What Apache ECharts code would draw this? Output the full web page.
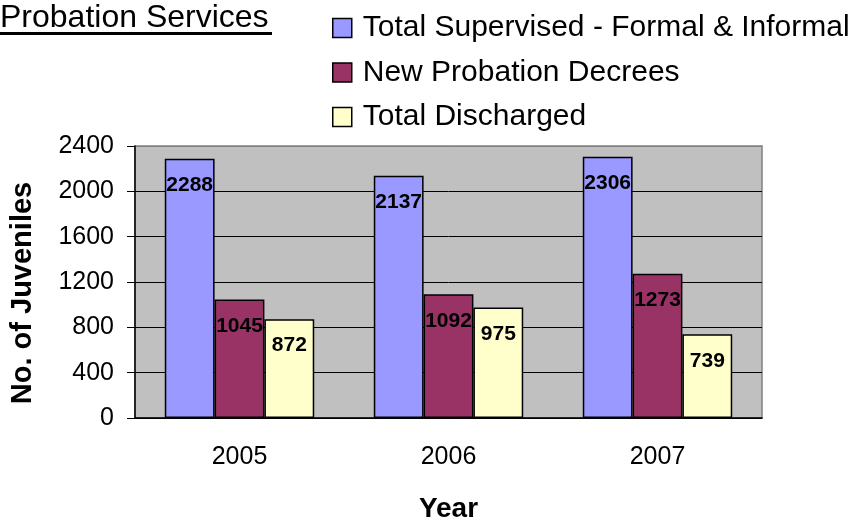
<!DOCTYPE html>
<html>
<head>
<meta charset="utf-8">
<script src="https://cdn.jsdelivr.net/npm/echarts@6/dist/echarts.min.js"></script>
<style>html,body{margin:0;padding:0;background:#fff;}#c{width:862px;height:528px;}</style>
</head>
<body>
<div id="c"></div>
<script>
var years = ['2005', '2006', '2007'];
var totalSupervised = [2288, 2137, 2306];
var newDecrees = [1045, 1092, 1273];
var totalDischarged = [872, 975, 739];
var seriesNames = ['Total Supervised - Formal & Informal', 'New Probation Decrees', 'Total Discharged'];
var yTicks = [0, 400, 800, 1200, 1600, 2000, 2400];

var FONT = "'Liberation Sans', Arial, sans-serif";
var chart = echarts.init(document.getElementById('c'));
var labelCfg = {
  show: true, position: 'insideTop', distance: 16,
  color: '#000', fontFamily: FONT, fontWeight: 'bold', fontSize: 21
};
function mk(name, data, color) {
  return {
    name: name, type: 'bar', data: data, barGap: '0%', barCategoryGap: '28.5%',
    itemStyle: { color: color, borderColor: '#000', borderWidth: 1.5 },
    label: labelCfg
  };
}
chart.setOption({
  animation: false,
  backgroundColor: '#fff',
  grid: { left: 133, right: 100, top: 146, bottom: 102, show: true,
          backgroundColor: '#C0C0C0', borderColor: '#808080', borderWidth: 1.5 },
  graphic: [
    { type: 'text', left: 0, top: 2, style: { text: 'Probation Services', font: '32px ' + FONT, fill: '#000' } },
    { type: 'rect', shape: { x: 0, y: 32, width: 272, height: 3 }, style: { fill: '#000' } }
  ],
  legend: {
    orient: 'vertical', left: 327, top: 8, itemWidth: 19, itemHeight: 19, itemGap: 14.5,
    icon: 'rect',
    textStyle: { fontFamily: FONT, fontSize: 30, color: '#000', padding: [0, 0, 0, 6] },
    data: seriesNames.map(function (n) { return { name: n, itemStyle: { borderColor: '#000', borderWidth: 1.5 } }; })
  },
  xAxis: {
    type: 'category', data: years,
    name: 'Year', nameLocation: 'middle', nameGap: 77,
    nameTextStyle: { fontFamily: FONT, fontWeight: 'bold', fontSize: 28, color: '#000' },
    axisLine: { lineStyle: { color: '#000', width: 1.5 } },
    axisTick: { length: 10, lineStyle: { color: '#000' } },
    axisLabel: { margin: 27, fontFamily: FONT, fontSize: 25, color: '#000' }
  },
  yAxis: {
    type: 'value', min: 0, max: 2400, interval: 400,
    name: 'No. of Juveniles', nameLocation: 'middle', nameGap: 98, nameRotate: 90,
    nameTextStyle: { fontFamily: FONT, fontWeight: 'bold', fontSize: 29, color: '#000', padding: [0, 22, 0, 0] },
    axisLine: { show: true, lineStyle: { color: '#000', width: 1.5 } },
    axisTick: { show: true, length: 8, lineStyle: { color: '#000' } },
    axisLabel: { margin: 21, fontFamily: FONT, fontSize: 25, color: '#000',
                 formatter: function (v) { return yTicks.indexOf(v) >= 0 ? String(v) : ''; } },
    splitLine: { show: true, lineStyle: { color: ['#000', '#000', '#000', '#000', '#000', '#000', '#808080'], width: 1 } }
  },
  series: [
    mk(seriesNames[0], totalSupervised, '#9999FF'),
    mk(seriesNames[1], newDecrees, '#993366'),
    mk(seriesNames[2], totalDischarged, '#FFFFCC')
  ]
});
</script>
</body>
</html>
